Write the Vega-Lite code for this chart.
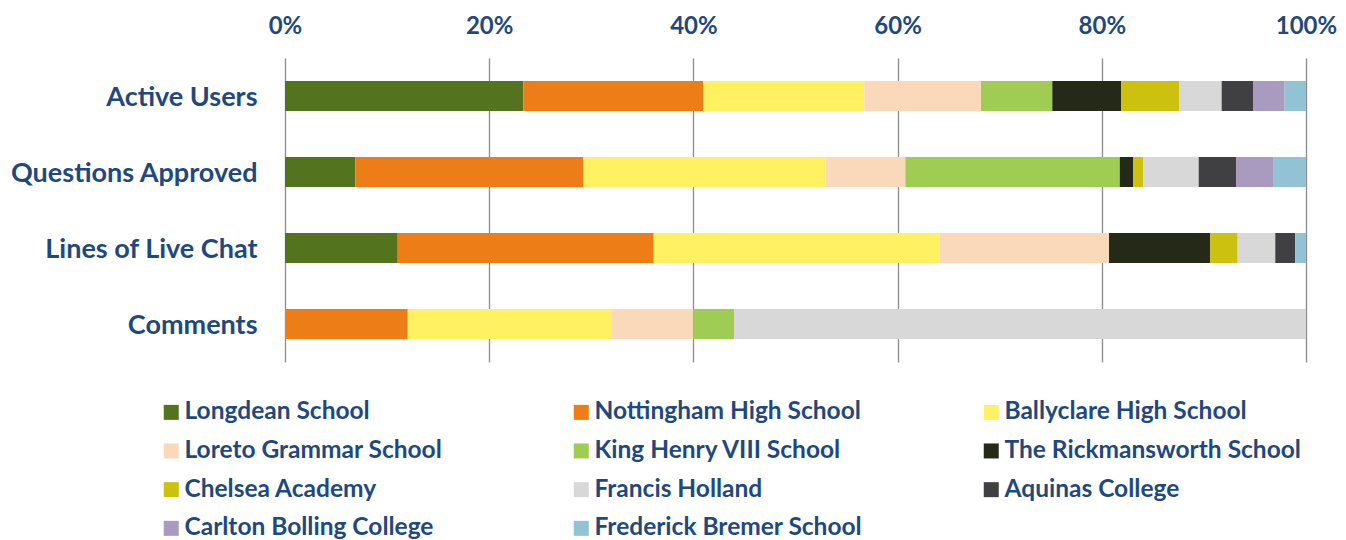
{
  "$schema": "https://vega.github.io/schema/vega-lite/v6.json",
  "width": 1021,
  "height": 304,
  "autosize": {"type": "none"},
  "padding": {"left": 285, "top": 58, "right": 40, "bottom": 178},
  "background": "white",
  "data": {
    "values": [
      {"metric": "Active Users", "school": "Longdean School", "k": 1, "value": 23.34},
      {"metric": "Active Users", "school": "Nottingham High School", "k": 2, "value": 17.60},
      {"metric": "Active Users", "school": "Ballyclare High School", "k": 3, "value": 15.80},
      {"metric": "Active Users", "school": "Loreto Grammar School", "k": 4, "value": 11.43},
      {"metric": "Active Users", "school": "King Henry VIII School", "k": 5, "value": 6.98},
      {"metric": "Active Users", "school": "The Rickmansworth School", "k": 6, "value": 6.73},
      {"metric": "Active Users", "school": "Chelsea Academy", "k": 7, "value": 5.68},
      {"metric": "Active Users", "school": "Francis Holland", "k": 8, "value": 4.18},
      {"metric": "Active Users", "school": "Aquinas College", "k": 9, "value": 3.07},
      {"metric": "Active Users", "school": "Carlton Bolling College", "k": 10, "value": 3.10},
      {"metric": "Active Users", "school": "Frederick Bremer School", "k": 11, "value": 2.09},
      {"metric": "Questions Approved", "school": "Longdean School", "k": 1, "value": 6.89},
      {"metric": "Questions Approved", "school": "Nottingham High School", "k": 2, "value": 22.33},
      {"metric": "Questions Approved", "school": "Ballyclare High School", "k": 3, "value": 23.74},
      {"metric": "Questions Approved", "school": "Loreto Grammar School", "k": 4, "value": 7.80},
      {"metric": "Questions Approved", "school": "King Henry VIII School", "k": 5, "value": 21.00},
      {"metric": "Questions Approved", "school": "The Rickmansworth School", "k": 6, "value": 1.30},
      {"metric": "Questions Approved", "school": "Chelsea Academy", "k": 7, "value": 0.98},
      {"metric": "Questions Approved", "school": "Francis Holland", "k": 8, "value": 5.45},
      {"metric": "Questions Approved", "school": "Aquinas College", "k": 9, "value": 3.66},
      {"metric": "Questions Approved", "school": "Carlton Bolling College", "k": 10, "value": 3.62},
      {"metric": "Questions Approved", "school": "Frederick Bremer School", "k": 11, "value": 3.23},
      {"metric": "Lines of Live Chat", "school": "Longdean School", "k": 1, "value": 11.04},
      {"metric": "Lines of Live Chat", "school": "Nottingham High School", "k": 2, "value": 25.07},
      {"metric": "Lines of Live Chat", "school": "Ballyclare High School", "k": 3, "value": 27.97},
      {"metric": "Lines of Live Chat", "school": "Loreto Grammar School", "k": 4, "value": 16.62},
      {"metric": "Lines of Live Chat", "school": "The Rickmansworth School", "k": 6, "value": 9.92},
      {"metric": "Lines of Live Chat", "school": "Chelsea Academy", "k": 7, "value": 2.68},
      {"metric": "Lines of Live Chat", "school": "Francis Holland", "k": 8, "value": 3.68},
      {"metric": "Lines of Live Chat", "school": "Aquinas College", "k": 9, "value": 1.96},
      {"metric": "Lines of Live Chat", "school": "Frederick Bremer School", "k": 11, "value": 1.05},
      {"metric": "Comments", "school": "Nottingham High School", "k": 2, "value": 12.02},
      {"metric": "Comments", "school": "Ballyclare High School", "k": 3, "value": 20.01},
      {"metric": "Comments", "school": "Loreto Grammar School", "k": 4, "value": 7.96},
      {"metric": "Comments", "school": "King Henry VIII School", "k": 5, "value": 3.98},
      {"metric": "Comments", "school": "Francis Holland", "k": 8, "value": 56.02}
    ]
  },
  "mark": {"type": "bar"},
  "encoding": {
    "y": {
      "field": "metric",
      "type": "nominal",
      "sort": ["Active Users", "Questions Approved", "Lines of Live Chat", "Comments"],
      "title": null,
      "scale": {"paddingInner": 0.605, "paddingOuter": 0.3026},
      "axis": {
        "domain": false,
        "ticks": false,
        "labelFont": "Lato",
        "labelFontWeight": "bold",
        "labelFontSize": 27,
        "labelColor": "#1F497D",
        "labelPadding": 28,
        "labelOffset": 2,
        "labelLimit": 400
      }
    },
    "x": {
      "field": "value",
      "type": "quantitative",
      "stack": "normalize",
      "title": null,
      "scale": {"domain": [0, 1], "nice": false},
      "axis": {
        "orient": "top",
        "format": "%",
        "values": [0, 0.2, 0.4, 0.6, 0.8, 1],
        "grid": true,
        "gridColor": "#8C8C8C",
        "gridWidth": 1.3,
        "domain": false,
        "ticks": false,
        "labelFont": "Lato",
        "labelFontWeight": "bold",
        "labelFontSize": 24,
        "labelColor": "#1F497D",
        "labelPadding": 20,
        "labelFlush": false
      }
    },
    "color": {
      "field": "school",
      "type": "nominal",
      "scale": {
        "domain": ["Longdean School", "Loreto Grammar School", "Chelsea Academy", "Carlton Bolling College", "Nottingham High School", "King Henry VIII School", "Francis Holland", "Frederick Bremer School", "Ballyclare High School", "The Rickmansworth School", "Aquinas College"],
        "range": ["#53731F", "#FAD9BB", "#CCC10E", "#A89BBF", "#ED7D17", "#9FCC53", "#D8D8D8", "#92C3D5", "#FFF162", "#242A17", "#404042"]
      },
      "legend": {
        "title": null,
        "orient": "none",
        "legendX": -126,
        "legendY": 342,
        "columns": 3,
        "gridAlign": "all",
        "columnPadding": 88,
        "rowPadding": 13.7,
        "symbolType": "square",
        "symbolSize": 225,
        "symbolStrokeWidth": 0,
        "labelFont": "Lato",
        "labelFontWeight": "bold",
        "labelFontSize": 24.5,
        "labelColor": "#1F497D",
        "labelOffset": 1,
        "labelLimit": 400
      }
    },
    "order": {"field": "k", "type": "quantitative"}
  },
  "config": {"view": {"stroke": null}}
}
